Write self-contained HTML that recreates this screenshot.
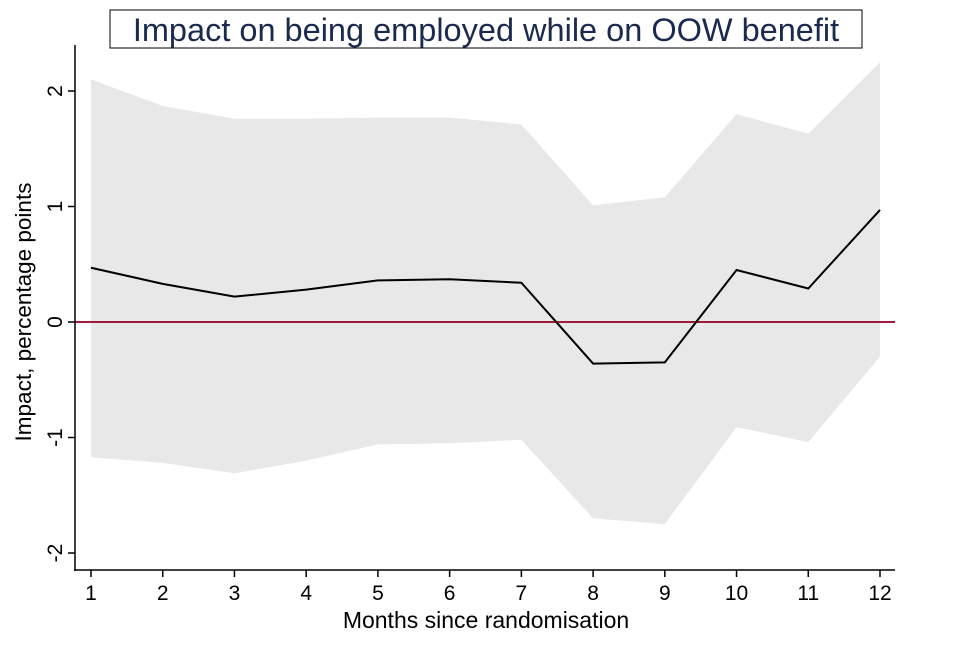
<!DOCTYPE html>
<html><head><meta charset="utf-8"><style>
body{margin:0;background:#fff;}
svg text{font-family:"Liberation Sans",sans-serif;}
</style></head><body>
<svg width="960" height="640" viewBox="0 0 960 640" id="chart">
<rect x="110" y="10" width="752" height="38" fill="#fff" stroke="#000" stroke-width="1"/>
<text x="486" y="41" text-anchor="middle" font-size="32.5" fill="#1a2a4f">Impact on being employed while on OOW benefit</text>
<g id="plot"></g>
<text x="486" y="628" text-anchor="middle" font-size="23" fill="#000">Months since randomisation</text>
<text transform="translate(31,312) rotate(-90)" text-anchor="middle" font-size="22.5" fill="#000">Impact, percentage points</text>
</svg>
<script>
const months=[1,2,3,4,5,6,7,8,9,10,11,12];
const impact=[0.47,0.33,0.22,0.28,0.36,0.37,0.34,-0.36,-0.35,0.45,0.29,0.97];
const upper=[2.1,1.87,1.76,1.76,1.77,1.77,1.71,1.01,1.08,1.8,1.63,2.25];
const lower=[-1.17,-1.22,-1.31,-1.2,-1.06,-1.05,-1.02,-1.7,-1.75,-0.91,-1.04,-0.3];
const yTicks=[-2,-1,0,1,2];
const xTicks=[1,2,3,4,5,6,7,8,9,10,11,12];
const NS='http://www.w3.org/2000/svg';
const g=document.getElementById('plot');
const xs=m=>91+(m-1)*(880-91)/11;
const ys=v=>322-v*115.5;
function mk(t,a){const e=document.createElementNS(NS,t);for(const k in a)e.setAttribute(k,a[k]);g.appendChild(e);return e;}
let band=months.map((m,i)=>xs(m)+','+ys(upper[i])).join(' ')+' '+months.slice().reverse().map((m,j)=>{const i=months.length-1-j;return xs(m)+','+ys(lower[i]);}).join(' ');
const b=mk('polygon',{points:band,fill:'#e8e8e8'});


const z=mk('line',{x1:75,x2:895,y1:ys(0),y2:ys(0),stroke:'#a01c3c','stroke-width':2});


const l=mk('polyline',{points:months.map((m,i)=>xs(m)+','+ys(impact[i])).join(' '),fill:'none',stroke:'#000','stroke-width':2});


const ya=mk('line',{x1:75,x2:75,y1:45,y2:571,stroke:'#000','stroke-width':1.5});


const xa=mk('line',{x1:74,x2:895,y1:570,y2:570,stroke:'#000','stroke-width':1.5});


yTicks.forEach(v=>{
 const t=mk('line',{x1:68,x2:75,y1:ys(v),y2:ys(v),stroke:'#000','stroke-width':1.5});
 
 
 const tx=mk('text',{transform:`translate(62,${ys(v)}) rotate(-90)`,'text-anchor':'middle','font-size':21});
 tx.textContent=v;
 
 
});
xTicks.forEach(v=>{
 const t=mk('line',{x1:xs(v),x2:xs(v),y1:570,y2:577,stroke:'#000','stroke-width':1.5});
 
 
 const tx=mk('text',{x:xs(v),y:600,'text-anchor':'middle','font-size':21});
 tx.textContent=v;
 
 
});
</script>
</body></html>
